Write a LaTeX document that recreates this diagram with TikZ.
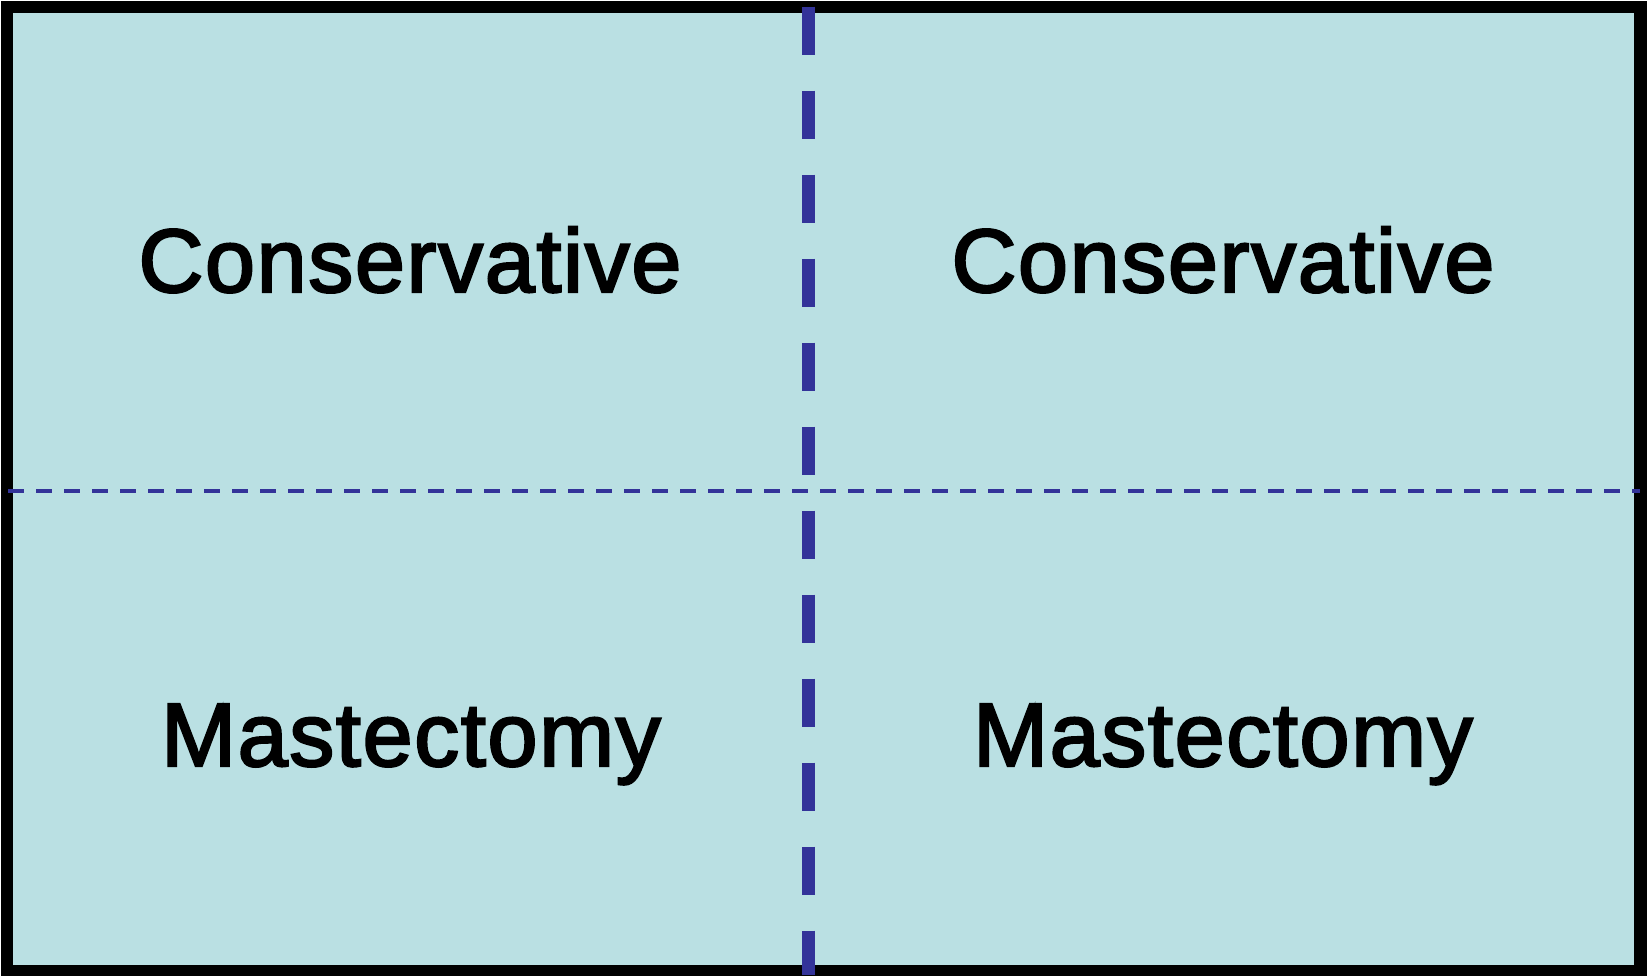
\documentclass[tikz,border=0pt]{standalone}
\usepackage{fontspec}
\setmainfont{Liberation Sans}
\newfontfamily\cellfont{Liberation Sans}[FakeBold=2.5, LetterSpace=1.8]
\usepackage{xcolor}
\usepackage{tikz}
\definecolor{boxfill}{RGB}{186,224,227}
\definecolor{cutblue}{RGB}{51,51,153}

\begin{document}
\begin{tikzpicture}[x=0.5pt, y=0.5pt,
  label/.style={anchor=base, inner sep=0pt, font=\cellfont\fontsize{45}{54}\selectfont}]
\useasboundingbox (0,0) rectangle (1647,975);
\draw [black, line width=6.25pt, fill=boxfill] (7,3.5) rectangle (1640.5,968);

\coordinate (vtop) at (808.7,968.3);
\coordinate (vbot) at (808.7,0);
\coordinate (hleft) at (8,484.3);
\coordinate (hright) at (1640,484.3);

\draw [cutblue, line width=6.25pt, dash pattern=on 24pt off 18pt] (vtop) -- (vbot);
\draw [cutblue, line width=2.15pt, dash pattern=on 8pt off 6pt] (hleft) -- (hright);

\node [label] (consleft) at (410,683) {Conservative};
\node [label] (consright) at (1223,683) {Conservative};
\node [label] (mastleft) at (411,209) {Mastectomy};
\node [label] (mastright) at (1223,209) {Mastectomy};
\end{tikzpicture}
\end{document}
